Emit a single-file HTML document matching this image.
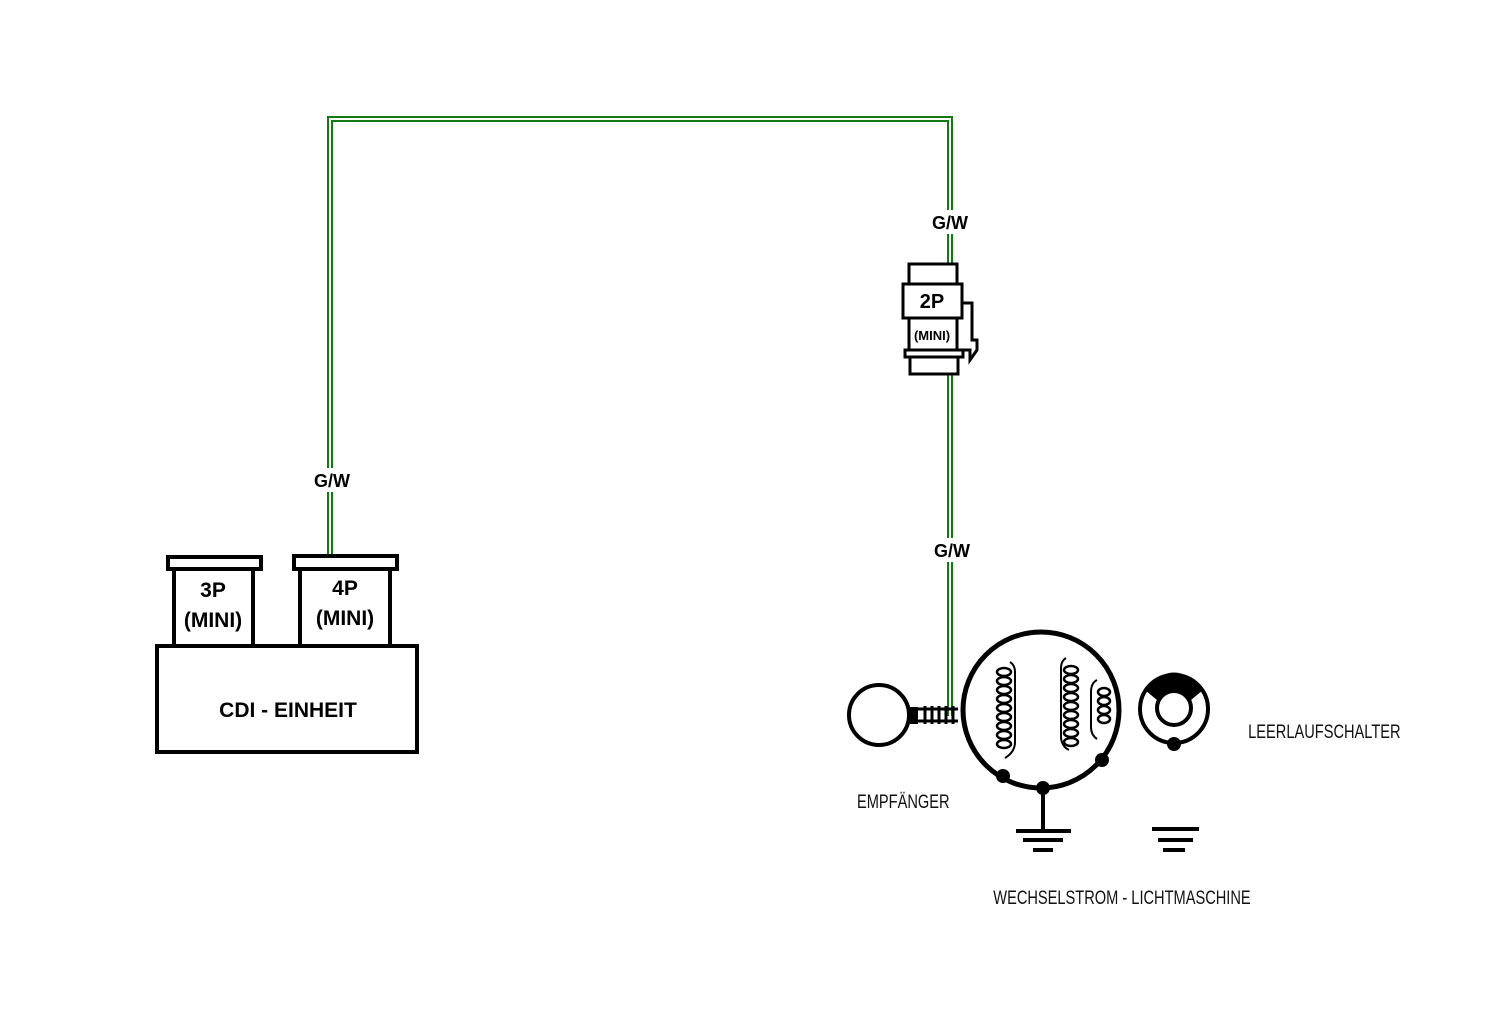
<!DOCTYPE html>
<html><head><meta charset="utf-8"><style>
html,body{margin:0;padding:0;background:#fff;}
svg{display:block}
text{font-family:"Liberation Sans",sans-serif}
</style></head><body>
<svg width="1507" height="1012" viewBox="0 0 1507 1012" xmlns="http://www.w3.org/2000/svg">
<g fill="none">
<polyline points="330,556 330,119 950,119 950,264" stroke="#117a11" stroke-width="6"/>
<polyline points="330,556 330,119 950,119 950,264" stroke="#fff" stroke-width="2"/>
<polyline points="950,375 950,716" stroke="#117a11" stroke-width="6"/>
<polyline points="950,375 950,716" stroke="#fff" stroke-width="2"/>
</g>
<g fill="#fff">
<rect x="310" y="468" width="44" height="24"/>
<rect x="928" y="210" width="44" height="24"/>
<rect x="930" y="538" width="44" height="24"/>
</g>
<g fill="#fff" stroke="#000" stroke-width="4">
<rect x="157" y="646" width="260" height="106"/>
<rect x="174" y="568" width="79" height="78"/>
<rect x="168" y="557" width="93" height="12"/>
<rect x="300" y="568" width="90" height="78"/>
<rect x="294" y="556" width="103" height="13"/>
</g>
<g font-weight="bold" font-size="21" text-anchor="middle" fill="#000">
<text x="213" y="597">3P</text><text x="213" y="627">(MINI)</text>
<text x="345" y="595">4P</text><text x="345" y="625">(MINI)</text>
<text x="288" y="717">CDI - EINHEIT</text>
<text x="332" y="487" font-size="18">G/W</text>
<text x="950" y="229" font-size="18">G/W</text>
<text x="952" y="557" font-size="18">G/W</text>
</g>
<g fill="#fff" stroke="#000" stroke-width="3">
<polyline points="962,303 972,303 972,340 977,340 977,350 970,360 970,350 962,350"/>
<rect x="909" y="264" width="48" height="20"/>
<rect x="909" y="318" width="48" height="33"/>
<rect x="910" y="357" width="48" height="17"/>
<rect x="905" y="350" width="58" height="7"/>
<rect x="903" y="284" width="59" height="34"/>
</g>
<text x="932" y="308" font-weight="bold" font-size="20" text-anchor="middle">2P</text>
<text x="932" y="340" font-weight="bold" font-size="13" text-anchor="middle">(MINI)</text>
<g stroke="#000" fill="none" stroke-width="4">
<circle cx="879" cy="715" r="30"/>
<circle cx="1041" cy="710" r="78" stroke-width="5"/>
<circle cx="1174" cy="709" r="34"/>
<circle cx="1174" cy="708" r="17"/>
<line x1="1043" y1="790" x2="1043" y2="830"/>
<line x1="1016" y1="831" x2="1071" y2="831"/>
<line x1="1023" y1="840" x2="1063" y2="840"/>
<line x1="1033" y1="850" x2="1053" y2="850"/>
<line x1="1152" y1="829" x2="1199" y2="829"/>
<line x1="1158" y1="840" x2="1193" y2="840"/>
<line x1="1163" y1="850" x2="1185" y2="850"/>
</g>
<g stroke="#000" fill="none" stroke-width="2">
<path d="M1010,662 q5,3 5,10 v70 q0,10 -10,16"/>
<path d="M1066,658 q-5,3 -5,10 v68 q0,10 8,14"/>
<path d="M1097,680 q-6,3 -6,12 v35 q0,8 6,12"/>
</g>
<g stroke="#000" fill="#fff" stroke-width="2.5">
<ellipse cx="1004" cy="672" rx="7" ry="4"/><ellipse cx="1004" cy="681" rx="7" ry="4"/><ellipse cx="1004" cy="690" rx="7" ry="4"/><ellipse cx="1004" cy="699" rx="7" ry="4"/><ellipse cx="1004" cy="708" rx="7" ry="4"/><ellipse cx="1004" cy="717" rx="7" ry="4"/><ellipse cx="1004" cy="726" rx="7" ry="4"/><ellipse cx="1004" cy="735" rx="7" ry="4"/><ellipse cx="1004" cy="744" rx="7" ry="4"/>
<ellipse cx="1071" cy="670" rx="7" ry="4"/><ellipse cx="1071" cy="679" rx="7" ry="4"/><ellipse cx="1071" cy="688" rx="7" ry="4"/><ellipse cx="1071" cy="697" rx="7" ry="4"/><ellipse cx="1071" cy="706" rx="7" ry="4"/><ellipse cx="1071" cy="715" rx="7" ry="4"/><ellipse cx="1071" cy="724" rx="7" ry="4"/><ellipse cx="1071" cy="733" rx="7" ry="4"/><ellipse cx="1071" cy="742" rx="7" ry="4"/>
<ellipse cx="1104" cy="692" rx="6" ry="4"/><ellipse cx="1104" cy="701" rx="6" ry="4"/><ellipse cx="1104" cy="710" rx="6" ry="4"/><ellipse cx="1104" cy="719" rx="6" ry="4"/>
</g>
<path d="M1145,690 q29,-35 58,0 l-12,10 q-17,-15 -34,0 z" fill="#000"/>
<rect x="910" y="707" width="8" height="17" fill="#000"/>
<path d="M918,709 h40 M918,721 h40 M925,706 v18 M932,706 v18 M939,706 v18 M946,706 v18 M953,706 v18" stroke="#000" stroke-width="3"/>
<g fill="#000">
<circle cx="1003" cy="776" r="7"/>
<circle cx="1043" cy="788" r="7"/>
<circle cx="1102" cy="760" r="7"/>
<circle cx="1174" cy="744" r="7"/>
</g>
<g font-size="19" fill="#111" transform="scale(0.77,1)">
<text x="1113" y="808">EMPFÄNGER</text>
<text x="1621" y="738">LEERLAUFSCHALTER</text>
<text x="1290" y="904">WECHSELSTROM - LICHTMASCHINE</text>
</g>
</svg>
</body></html>
